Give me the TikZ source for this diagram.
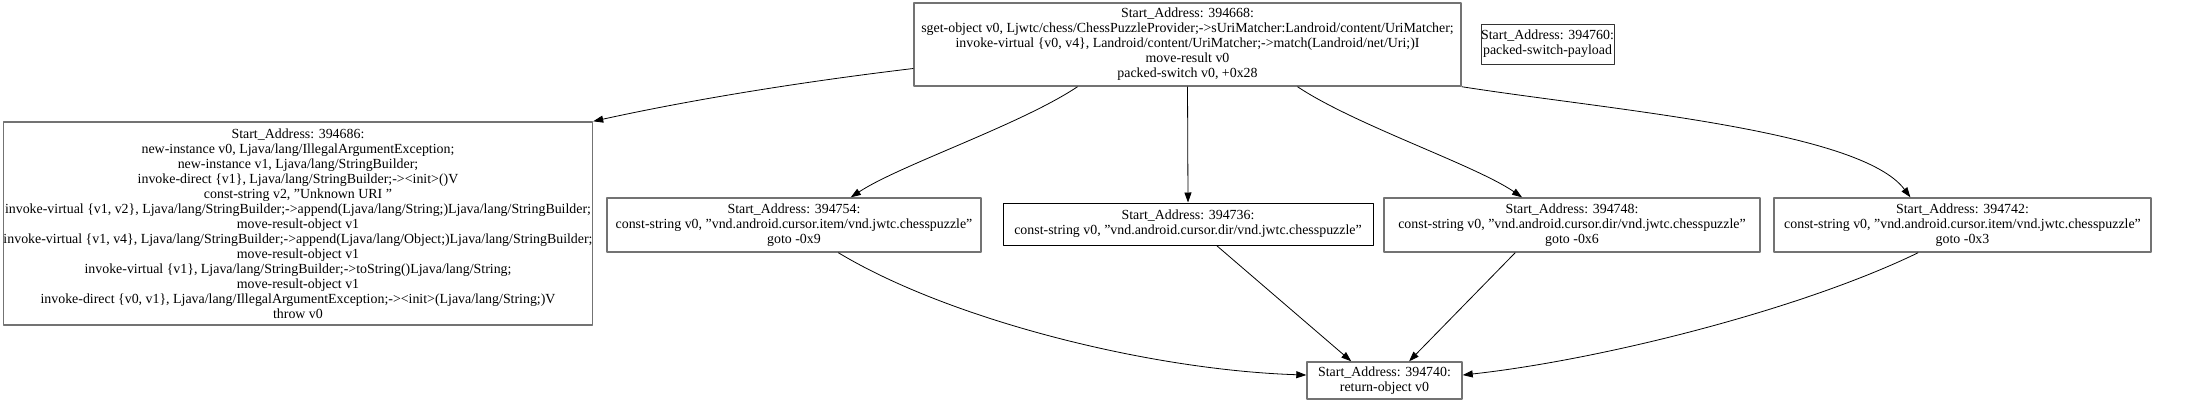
\documentclass[tikz,border=0pt]{standalone}
\usepackage{fontspec}
\setmainfont{Liberation Serif}
\usetikzlibrary{arrows.meta}
\begin{document}
\begin{tikzpicture}[x=1pt, y=-1pt, line join=round,
        >={Triangle[length=10pt,width=7pt]},
        font=\fontsize{13.9}{15}\selectfont,
        blk/.style={draw=black!55, line width=1.4pt, align=center, inner sep=0pt, fill=white},
        edge/.style={->, line width=0.8pt}]
        \useasboundingbox[fill=white] (0,0) rectangle (2197,416);
        % blocks
        \node[blk, minimum width=547pt, minimum height=83pt] (b394668) at (1187.5,44.5)
            {Start\_Address: 394668:\\
             sget-object v0, Ljwtc/chess/ChessPuzzleProvider;->sUriMatcher:Landroid/content/UriMatcher;\\
             invoke-virtual \{v0, v4\}, Landroid/content/UriMatcher;->match(Landroid/net/Uri;)I\\
             move-result v0\\
             packed-switch v0, +0x28};
        \node[blk, line width=1pt, draw=black!80, minimum width=133pt, minimum height=40pt] (b394760) at (1547.5,44)
            {Start\_Address: 394760:\\ packed-switch-payload};
        \node[blk, minimum width=588pt, minimum height=203pt] (b394686) at (298,223.5)
            {Start\_Address: 394686:\\
             new-instance v0, Ljava/lang/IllegalArgumentException;\\
             new-instance v1, Ljava/lang/StringBuilder;\\
             invoke-direct \{v1\}, Ljava/lang/StringBuilder;-><init>()V\\
             const-string v2, "Unknown URI\ "\\
             invoke-virtual \{v1, v2\}, Ljava/lang/StringBuilder;->append(Ljava/lang/String;)Ljava/lang/StringBuilder;\\
             move-result-object v1\\
             invoke-virtual \{v1, v4\}, Ljava/lang/StringBuilder;->append(Ljava/lang/Object;)Ljava/lang/StringBuilder;\\
             move-result-object v1\\
             invoke-virtual \{v1\}, Ljava/lang/StringBuilder;->toString()Ljava/lang/String;\\
             move-result-object v1\\
             invoke-direct \{v0, v1\}, Ljava/lang/IllegalArgumentException;-><init>(Ljava/lang/String;)V\\
             throw v0};
        \node[blk, minimum width=374pt, minimum height=54pt] (b394754) at (794,225)
            {Start\_Address: 394754:\\
             const-string v0, "vnd.android.cursor.item/vnd.jwtc.chesspuzzle"\\
             goto -0x9};
        \node[blk, line width=1pt, draw=black, minimum width=370pt, minimum height=42pt] (b394736) at (1188,224)
            {Start\_Address: 394736:\\
             const-string v0, "vnd.android.cursor.dir/vnd.jwtc.chesspuzzle"};
        \node[blk, minimum width=376pt, minimum height=54pt] (b394748) at (1572,225)
            {Start\_Address: 394748:\\
             const-string v0, "vnd.android.cursor.dir/vnd.jwtc.chesspuzzle"\\
             goto -0x6};
        \node[blk, minimum width=377pt, minimum height=54pt] (b394742) at (1962.5,225)
            {Start\_Address: 394742:\\
             const-string v0, "vnd.android.cursor.item/vnd.jwtc.chesspuzzle"\\
             goto -0x3};
        \node[blk, minimum width=155pt, minimum height=37pt] (b394740) at (1384.5,380.5)
            {Start\_Address: 394740:\\ return-object v0};
        % switch edges
        \draw[edge] (b394668.185) .. controls (800,82) and (690,100) .. (b394686.north east);
        \draw[edge] (b394668.201) .. controls (1020,125) and (900,165) .. (b394754.26);
        \draw[edge] (b394668.south) -- (b394736.north);
        \draw[edge] (b394668.339) .. controls (1355,125) and (1475,165) .. (b394748.151);
        \draw[edge] (b394668.south east) .. controls (1610,110) and (1860,130) .. (b394742.152);
        % return edges
        \draw[edge] (b394754.-32) .. controls (950,320) and (1150,370) .. (b394740.176);
        \draw[edge] (b394736.-37) -- (b394740.150);
        \draw[edge] (b394748.206) -- (b394740.38);
        \draw[edge] (b394742.212) .. controls (1800,310) and (1600,360) .. (b394740.4);
\end{tikzpicture}
\end{document}
